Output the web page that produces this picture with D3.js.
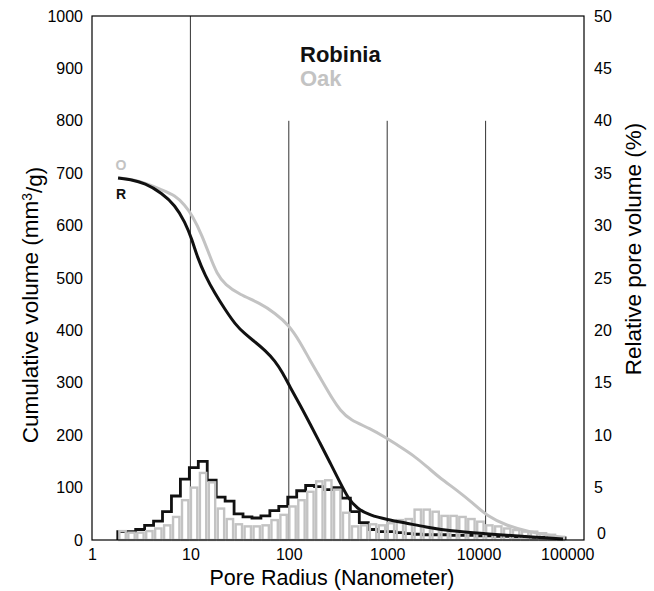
<!DOCTYPE html>
<html>
<head>
<meta charset="utf-8">
<script src="https://cdn.jsdelivr.net/npm/d3@7"></script>
<style>
  html, body { margin: 0; padding: 0; background: #fff; }
  svg { display: block; font-family: "Liberation Sans", Arial, sans-serif; }
</style>
</head>
<body>
<svg id="chart" width="654" height="591"></svg>
<script>
// ---------- data ----------
const radiusTicks = [1, 10, 100, 1000, 10000, 100000];
const volumeTicks = [0, 100, 200, 300, 400, 500, 600, 700, 800, 900, 1000];
const percentTicks = [0, 5, 10, 15, 20, 25, 30, 35, 40, 45, 50];
const gridRadii = [10, 100, 1000, 10000];
const gridTopVolume = [1000, 800, 800, 800];

// histogram bin edges (nm)
const binEdges = [1.828, 2.254, 2.779, 3.425, 4.223, 5.206, 6.419, 7.913, 9.757, 12.03,
  14.83, 18.28, 22.54, 27.79, 34.25, 42.23, 52.06, 64.19, 79.13, 97.57,
  120.3, 148.3, 182.8, 225.4, 277.9, 342.5, 422.3, 520.6, 641.9, 791.3,
  975.7, 1203, 1483, 1828, 2254, 2779, 3425, 4223, 5206, 6419,
  7913, 9757, 12030, 14830, 18280, 22540, 27790, 34250, 42230, 52060, 64190];

// relative pore volume (%) per bin
const robiniaRel = [0.8, 0.8, 1.0, 1.4, 1.8, 2.7, 4.2, 5.8, 6.9, 7.5,
  5.7, 4.1, 3.7, 2.5, 2.2, 2.1, 2.3, 2.8, 3.2, 4.1,
  4.7, 5.2, 5.1, 4.8, 5.0, 4.0, 2.7, 1.65, 1.0, 0.8,
  0.8, 0.7, 0.6, 0.55, 0.5, 0.5, 0.5, 0.45, 0.45, 0.45,
  0.4, 0.4, 0.35, 0.35, 0.3, 0.3, 0.25, 0.25, 0.2, 0.2];
const oakRel = [0.85, 0.7, 0.7, 0.85, 1.1, 1.4, 2.2, 3.8, 5.0, 6.4,
  5.5, 3.0, 2.0, 1.5, 1.3, 1.3, 1.4, 1.9, 2.4, 3.2,
  3.8, 4.6, 5.6, 5.7, 4.8, 2.6, 1.3, 1.4, 1.5, 1.4,
  1.6, 1.9, 2.0, 2.9, 2.9, 2.7, 2.3, 2.3, 2.2, 2.0,
  1.75, 1.4, 1.3, 1.1, 0.95, 0.8, 0.8, 0.65, 0.5, 0.3];

// cumulative volume (mm3/g)
const robiniaCumR = [1.84, 2.43, 3.46, 5.14, 6.98, 8.81, 10.4, 11.7, 14.1, 17.8, 22.5, 28.4, 35.9, 45.4, 57.3, 72.4, 87.3, 102.8, 130, 164, 207.5, 262, 331, 399.5, 493, 669, 995, 1589, 2422, 4346, 10100, 22370, 61180];
const robiniaCumV = [691, 688, 681, 662, 639, 607, 573, 541, 505, 470, 440, 412, 393, 378, 362, 342, 318, 292, 258, 222, 185, 148, 110, 80, 60, 47, 39, 32, 25, 17, 12, 7, 2];
const oakCumR = [1.84, 3.07, 5.14, 6.98, 8.81, 10.4, 13.1, 15.8, 18.6, 22.5, 31.9, 51.0, 72.4, 100.5, 130, 164, 198, 233, 281, 331, 419, 669, 995, 1349, 1829, 2538, 3440, 5121, 7447, 10330, 16500, 28270, 48420, 61180];
const oakCumV = [691, 686, 668, 658, 639, 620, 582, 541, 508, 487, 468, 452, 433, 410, 378, 343, 317, 294, 268, 248, 229, 213, 194, 178, 162, 140, 118, 95, 70, 46, 27, 15, 8, 5];

const seriesNames = ["Robinia", "Oak"];
const seriesColors = ["#111111", "#c3c3c3"];

// ---------- layout ----------
const W = 654, H = 591;
const M = { left: 92, right: 70, top: 16, bottom: 51 };
const svg = d3.select("#chart");

const x = d3.scaleLog().domain([1, 100000]).range([M.left, W - M.right]);
const y = d3.scaleLinear().domain([0, 1000]).range([H - M.bottom, M.top]);
const y2 = d3.scaleLinear().domain([0, 50]).range([H - M.bottom, M.top]);

// grid lines
svg.append("g").selectAll("line").data(gridRadii).join("line")
  .attr("x1", d => x(d)).attr("x2", d => x(d))
  .attr("y1", (d, i) => y(gridTopVolume[i])).attr("y2", y(0))
  .attr("stroke", "#333").attr("stroke-width", 1);

// Robinia histogram: step outline
const stepPts = [[binEdges[0], 0]];
robiniaRel.forEach((v, i) => stepPts.push([binEdges[i], v]));
stepPts.push([binEdges[robiniaRel.length], robiniaRel[robiniaRel.length - 1]]);
stepPts.push([binEdges[robiniaRel.length], 0]);
svg.append("path")
  .attr("d", d3.line().x(d => x(d[0])).y(d => y2(d[1])).curve(d3.curveStepAfter)(stepPts))
  .attr("fill", "none").attr("stroke", seriesColors[0]).attr("stroke-width", 2.8)
  .attr("stroke-linejoin", "miter");

// Oak histogram: open bars
svg.append("g").selectAll("rect").data(oakRel).join("rect")
  .attr("x", (d, i) => x(binEdges[i]) + 1.6)
  .attr("width", (d, i) => x(binEdges[i + 1]) - x(binEdges[i]) - 2.6)
  .attr("y", d => y2(d))
  .attr("height", d => y2(0) - y2(d))
  .attr("fill", "none").attr("stroke", seriesColors[1]).attr("stroke-width", 2.4);

// cumulative curves
const cumLine = d3.line().x(d => x(d[0])).y(d => y(d[1])).curve(d3.curveBasis);
svg.append("path")
  .attr("d", cumLine(oakCumR.map((r, i) => [r, oakCumV[i]])))
  .attr("fill", "none").attr("stroke", seriesColors[1]).attr("stroke-width", 3);
svg.append("path")
  .attr("d", cumLine(robiniaCumR.map((r, i) => [r, robiniaCumV[i]])))
  .attr("fill", "none").attr("stroke", seriesColors[0]).attr("stroke-width", 3);

// frame
svg.append("rect")
  .attr("x", x(1)).attr("y", y(1000))
  .attr("width", x(100000) - x(1)).attr("height", y(0) - y(1000))
  .attr("fill", "none").attr("stroke", "#000").attr("stroke-width", 1.2);

// axes
const fs = 16;
const gL = svg.append("g").attr("transform", `translate(${x(1)},0)`)
  .call(d3.axisLeft(y).tickValues(volumeTicks).tickFormat(d3.format("d")).tickSize(0).tickPadding(9));
const gR = svg.append("g").attr("transform", `translate(${x(100000)},0)`)
  .call(d3.axisRight(y2).tickValues(percentTicks).tickFormat(d3.format("d")).tickSize(0).tickPadding(10));
const gB = svg.append("g").attr("transform", `translate(0,${y(0)})`)
  .call(d3.axisBottom(x).tickValues(radiusTicks).tickFormat(d3.format("d")).tickSize(0).tickPadding(9));
[gL, gR, gB].forEach(g => {
  g.select(".domain").remove();
  g.selectAll("text").attr("font-size", fs).attr("fill", "#000")
    .attr("font-family", "'Liberation Sans', Arial, sans-serif");
});
gR.selectAll(".tick").filter(d => d === 0).select("text").attr("dy", "-0.1em").attr("dx", 3);
gB.selectAll(".tick").filter(d => d === 10000).select("text").attr("dx", -7);
gB.selectAll(".tick").filter(d => d === 100000).select("text").attr("text-anchor", "end").attr("dx", 10);

// axis titles
svg.append("text")
  .attr("x", (x(1) + x(100000)) / 2 - 6).attr("y", 585)
  .attr("text-anchor", "middle").attr("font-size", 21.5)
  .text("Pore Radius (Nanometer)");

const tfs = 22.5;
const lt = svg.append("text")
  .attr("transform", `translate(38,305) rotate(-90)`)
  .attr("text-anchor", "middle").attr("font-size", tfs);
lt.append("tspan").text("Cumulative volume (mm");
lt.append("tspan").attr("dy", "-0.45em").attr("font-size", tfs * 0.62).text("3");
lt.append("tspan").attr("dy", "0.45em").text("/g)");

svg.append("text")
  .attr("transform", `translate(641,249) rotate(-90)`)
  .attr("text-anchor", "middle").attr("font-size", tfs)
  .text("Relative pore volume (%)");

// legend
svg.append("g").selectAll("text").data(seriesNames).join("text")
  .attr("x", 300).attr("y", (d, i) => 62 + i * 24)
  .attr("font-size", 22).attr("font-weight", "bold")
  .attr("fill", (d, i) => seriesColors[i])
  .text(d => d);

// curve start labels
svg.append("text").attr("x", x(robiniaCumR[0]) + 3).attr("y", y(robiniaCumV[0]) + 21)
  .attr("text-anchor", "middle").attr("font-size", 14).attr("font-weight", "bold")
  .attr("fill", seriesColors[0]).text("R");
svg.append("text").attr("x", x(oakCumR[0]) + 3).attr("y", y(oakCumV[0]) - 8)
  .attr("text-anchor", "middle").attr("font-size", 14).attr("font-weight", "bold")
  .attr("fill", seriesColors[1]).text("O");
</script>
</body>
</html>
